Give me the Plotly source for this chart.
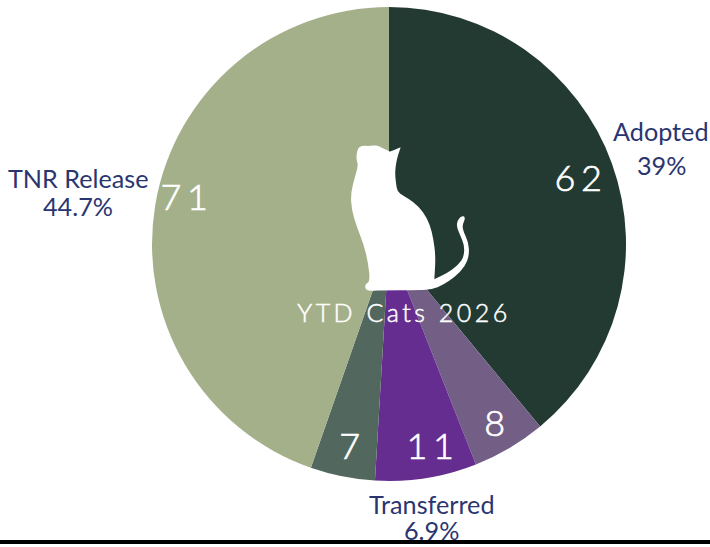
import math
import plotly.graph_objects as go

labels = ["Adopted", "Returned", "Transferred", "Other", "TNR Release"]
values = [62, 8, 11, 7, 71]
colors = ["#223A32", "#735E85", "#662D91", "#52685F", "#A4B08A"]
title_text = "YTD Cats 2026"

W, H = 710, 547
CX, CY, R = 389, 244, 237

wedges = go.Pie(
    labels=labels, values=values, sort=False, direction="clockwise", rotation=0,
    domain=dict(x=[(CX - R) / W, (CX + R) / W], y=[1 - (CY + R) / H, 1 - (CY - R) / H]),
    marker=dict(colors=colors, line=dict(width=0)),
    textinfo="none", showlegend=False, hoverinfo="skip",
)

# Cat silhouette traced on a 3x crop whose origin is (280, 130); doubled points stay sharp
cat = [(362,52),(362,52),(354,75),(348,100),(345,130),(348,160),(352,185),(370,197),(400,215),(430,245),(450,285),
       (460,325),(467,380),(463,448),(463,448),(500,430),(535,405),(552,380),(553,345),(540,315),(530,290),(532,272),
       (542,260),(553,258),(555,268),(547,285),(550,305),(565,335),(568,375),(555,410),(525,440),(490,465),
       (455,478),(420,481),(300,481),(265,483),(255,475),(256,462),(270,455),(265,400),(250,340),(230,290),
       (215,240),(212,190),(225,140),(235,105),(228,85),(233,55),(245,47),(270,48),(290,45),(310,55),(330,65),(330,65)]
pts = [((280 + x / 3) / W, 1 - (130 + y / 3) / H) for x, y in cat]
n = len(pts)
mid = lambda a, b: ((a[0] + b[0]) / 2, (a[1] + b[1]) / 2)
start = mid(pts[-1], pts[0])
path = f"M{start[0]:.5f},{start[1]:.5f} "
for i in range(n):
    m = mid(pts[i], pts[(i + 1) % n])
    path += f"Q{pts[i][0]:.5f},{pts[i][1]:.5f} {m[0]:.5f},{m[1]:.5f} "
path += "Z"

total = sum(values)
def pct(v):
    return f"{v / total * 100:.1f}".removesuffix(".0") + "%"

def rim_point(i):
    a = (sum(values[:i]) + values[i] / 2) / total * 2 * math.pi
    return (CX + R * math.sin(a)) / W, 1 - (CY - R * math.cos(a)) / H

def note(text, i, dx, dy, size, color, weight=400):
    x, y = rim_point(i)
    return dict(text=text, x=x, y=y, xref="paper", yref="paper", xshift=dx, yshift=dy,
                showarrow=False, xanchor="center", yanchor="middle",
                font=dict(family="Lato", size=size, color=color, weight=weight))

# slice label -> (xshift, yshift of name line, yshift of percent line), in pixels from the rim
label_offsets = {"Adopted": (49.5, 33, -1), "TNR Release": (-77, 26.3, -2), "Transferred": (5.5, -25.7, -52)}
# slice index -> shift of its count from the rim
number_offsets = [(-30.5, -13.3), (-12, 26), (6.5, 33), (10, 31.5), (32, 8.5)]

annotations = [dict(text=title_text, x=404 / W, y=1 - 312 / H, xref="paper", yref="paper",
                    showarrow=False, xanchor="center", yanchor="middle",
                    font=dict(family="Lato", size=25, color="white", weight=300))]
for i, (dx, dy) in enumerate(number_offsets):
    annotations.append(note(str(values[i]), i, dx, dy, 36, "white", 300))
for name, (dx, dy1, dy2) in label_offsets.items():
    i = labels.index(name)
    annotations.append(note(name, i, dx, dy1, 25.2, "#2A3570"))
    annotations.append(note(pct(values[i]), i, dx, dy2, 25.2, "#2A3570"))

fig = go.Figure([wedges])
fig.update_layout(
    width=W, height=H, margin=dict(l=0, r=0, t=0, b=0),
    paper_bgcolor="white", font=dict(family="Lato"),
    shapes=[
        dict(type="path", xref="paper", yref="paper", path=path, fillcolor="white", line=dict(width=0), layer="above"),
        dict(type="rect", xref="paper", yref="paper", x0=0, x1=1, y0=1 - 544 / H, y1=1 - 540 / H,
             fillcolor="black", line=dict(width=0), layer="above"),
    ],
    annotations=annotations,
)
css = ("var s=document.createElement('style');"
       "s.textContent='body{margin:0}"
       ".annotation-text[style*=\"font-size: 36px\"]{letter-spacing:5.5px;stroke:white;stroke-width:0.7px}"
       ".annotation-text[style*=\"font-size: 25px\"]{letter-spacing:3.5px;stroke:white;stroke-width:0.5px}';"
       "document.head.appendChild(s);")
fig.write_html("out.html", post_script=css, config=dict(displayModeBar=False))
